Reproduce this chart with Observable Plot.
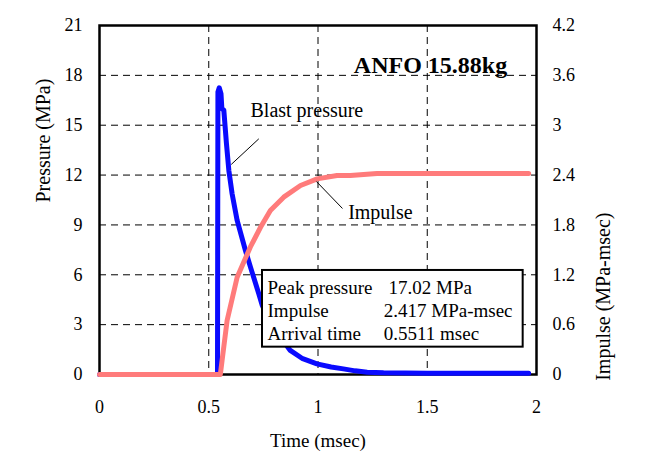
<!DOCTYPE html>
<html>
<head>
<meta charset="utf-8">
<script src="https://cdn.jsdelivr.net/npm/d3@7"></script>
<script src="https://cdn.jsdelivr.net/npm/@observablehq/plot@0.6"></script>
<style>
  html, body { margin: 0; padding: 0; background: #fff; }
  #chart svg { display: block; }
</style>
</head>
<body>
<div id="chart"></div>
<script>
// Blast pressure (MPa) vs time (msec)
const pressureTime = [0, 0.540, 0.542, 0.548, 0.556, 0.560, 0.569, 0.581, 0.592, 0.607, 0.630, 0.668, 0.691, 0.729, 0.745, 0.78, 0.82, 0.873, 0.93, 0.995, 1.06, 1.116, 1.17, 1.225, 1.30, 1.50, 1.964];
const pressureValue = [0, 0, 17.0, 17.25, 16.9, 16.0, 15.9, 13.9, 12.27, 10.87, 9.27, 7.46, 6.46, 4.86, 4.15, 3.2, 2.4, 1.45, 0.95, 0.64, 0.45, 0.34, 0.22, 0.14, 0.10, 0.08, 0.08];

// Impulse (MPa-msec) vs time (msec)
const impulseTime = [0, 0.553, 0.561, 0.584, 0.630, 0.690, 0.737, 0.782, 0.843, 0.920, 0.996, 1.087, 1.148, 1.27, 1.964];
const impulseValue = [0, 0, 0.168, 0.65, 1.17, 1.532, 1.772, 1.974, 2.134, 2.274, 2.354, 2.394, 2.394, 2.418, 2.418];

// Axis ticks
const timeTicks = [0, 0.5, 1, 1.5, 2];
const timeTickLabels = ["0", "0.5", "1", "1.5", "2"];
const pressureTicks = [0, 3, 6, 9, 12, 15, 18, 21];
const impulseTickLabels = ["0", "0.6", "1.2", "1.8", "2.4", "3", "3.6", "4.2"];
const impulseScale = 5; // 4.2 MPa-msec on the right axis lines up with 21 MPa on the left

// Texts
const chartTitle = "ANFO 15.88kg";
const seriesLabels = ["Blast pressure", "Impulse"];
const boxLabels = ["Peak pressure", "Impulse", "Arrival time"];
const boxValues = ["17.02 MPa", "2.417 MPa-msec", "0.5511 msec"];

// Annotation anchors (data units: time, pressure)
const seriesLabelPos = [{t: 0.691, p: 15.89}, {t: 1.138, p: 9.77}];
const leaders = [
  {t1: 0.729, p1: 14.18, t2: 0.603, p2: 12.64},
  {t1: 1.112, p1: 9.99, t2: 0.993, p2: 11.61}
];
const boxExtent = {t1: 0.746, t2: 1.939, p1: 1.645, p2: 6.26};
const boxRowP = [5.235, 3.85, 2.467];
const boxLabelT = 0.769;
const boxValueT = [1.323, 1.301, 1.301];

const pressure = pressureTime.map((t, i) => ({t, p: pressureValue[i]}));
const impulse = impulseTime.map((t, i) => ({t, v: impulseValue[i]}));
const boxRows = boxLabels.map((l, i) => ({label: l, value: boxValues[i], p: boxRowP[i], tv: boxValueT[i]}));

const font = "Liberation Serif, Times New Roman, serif";

const chart = Plot.plot({
  width: 663,
  height: 476,
  marginLeft: 99,
  marginRight: 127,
  marginTop: 25,
  marginBottom: 102,
  style: {fontFamily: font, color: "black", background: "white"},
  x: {domain: [0, 2]},
  y: {domain: [0, 21]},
  marks: [
    // dashed grid
    Plot.ruleX(timeTicks.filter(d => d > 0 && d < 2), {stroke: "black", strokeWidth: 1, strokeDasharray: "7,5"}),
    Plot.ruleY(pressureTicks.filter(d => d > 0 && d < 21), {stroke: "black", strokeWidth: 1, strokeDasharray: "7,5"}),
    Plot.frame({stroke: "black", strokeWidth: 2.5}),
    // axes
    Plot.axisX({ticks: timeTicks, tickSize: 0, tickPadding: 26, fontSize: 18, label: null,
      tickFormat: d => timeTickLabels[timeTicks.indexOf(d)]}),
    Plot.axisY({anchor: "left", ticks: pressureTicks, tickSize: 0, tickPadding: 17, fontSize: 18, label: null}),
    Plot.axisY({anchor: "right", ticks: pressureTicks, tickSize: 0, tickPadding: 16, fontSize: 18, label: null,
      tickFormat: d => impulseTickLabels[pressureTicks.indexOf(d)]}),
    // axis titles
    Plot.text(["Time (msec)"], {frameAnchor: "bottom", dy: 66, fontSize: 19, lineAnchor: "middle"}),
    Plot.text(["Pressure (MPa)"], {frameAnchor: "left", dx: -56, dy: 2.5, rotate: -90, fontSize: 20, lineAnchor: "middle"}),
    Plot.text(["Impulse (MPa-msec)"], {frameAnchor: "right", dx: 67, dy: 12.5, rotate: -90, fontSize: 20, lineAnchor: "middle"}),
    // series
    Plot.line(pressure, {x: "t", y: "p", stroke: "#0a0aff", strokeWidth: 5, strokeLinejoin: "round", strokeLinecap: "round"}),
    Plot.line(impulse, {x: "t", y: d => d.v * impulseScale, stroke: "#ff7b7b", strokeWidth: 5, strokeLinejoin: "round"}),
    // leaders and labels
    Plot.link(leaders, {x1: "t1", y1: "p1", x2: "t2", y2: "p2", stroke: "black", strokeWidth: 1}),
    Plot.text(seriesLabelPos, {x: "t", y: "p", text: (d, i) => seriesLabels[i], textAnchor: "start", fontSize: 20, lineAnchor: "middle"}),
    // title
    Plot.text([chartTitle], {x: 1.515, y: 18.59, fontSize: 24, fontWeight: "bold", lineAnchor: "middle"}),
    // info box
    Plot.rect([boxExtent], {x1: "t1", x2: "t2", y1: "p1", y2: "p2", fill: "white", stroke: "black", strokeWidth: 2}),
    Plot.text(boxRows, {x: boxLabelT, y: "p", text: "label", textAnchor: "start", fontSize: 19, lineAnchor: "middle"}),
    Plot.text(boxRows, {x: "tv", y: "p", text: "value", textAnchor: "start", fontSize: 19, lineAnchor: "middle"})
  ]
});
document.getElementById("chart").appendChild(chart);
</script>
</body>
</html>
